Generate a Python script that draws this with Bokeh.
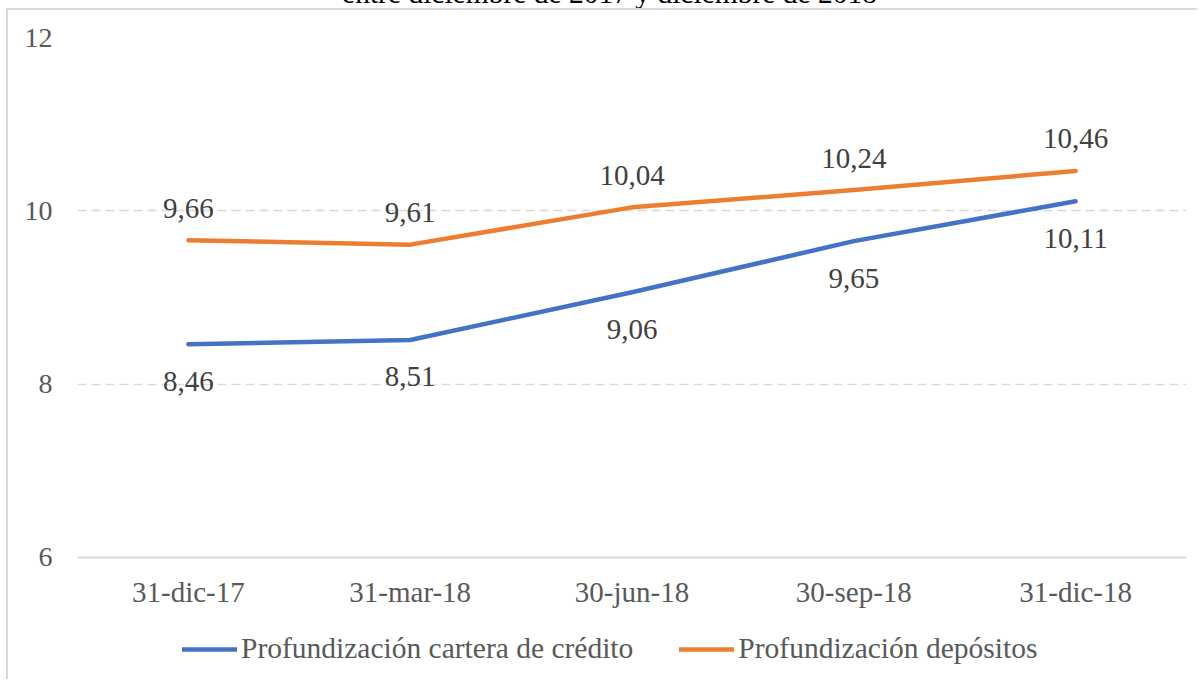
from bokeh.plotting import figure
from bokeh.models import (ColumnDataSource, FixedTicker, Legend, LegendItem, Div, FactorRange, Range1d, Span)
from bokeh.layouts import column
from bokeh.embed import file_html
from bokeh.resources import INLINE
from bokeh.core.properties import value

categories = ["31-dic-17", "31-mar-18", "30-jun-18", "30-sep-18", "31-dic-18"]
credito = [8.46, 8.51, 9.06, 9.65, 10.11]
depositos = [9.66, 9.61, 10.04, 10.24, 10.46]
series_names = ["Profundización cartera de crédito", "Profundización depósitos"]
y_ticks = [6, 8, 10, 12]
y_base = 6
title_text = "entre diciembre de 2017 y diciembre de 2018"

FONT = "Liberation Serif"

def fmt(v):
    return f"{v:.2f}".replace(".", ",")

# frame extends below the y=6 baseline so that category labels and legend live inside it
p = figure(x_range=FactorRange(*categories), y_range=Range1d(4.569, 12),
           width=1191, height=671, output_backend="svg", toolbar_location=None,
           min_border_left=69, min_border_right=13, min_border_top=27, min_border_bottom=0)
p.margin = (2, 0, 0, 8)
p.outline_line_color = None
p.styles = {"box-shadow": "-2px -2px 0 0 #d9d9d9"}

src_c = ColumnDataSource(dict(x=categories, y=credito, lab=[fmt(v) for v in credito]))
src_d = ColumnDataSource(dict(x=categories, y=depositos, lab=[fmt(v) for v in depositos]))
src_x = ColumnDataSource(dict(x=categories, y=[y_base] * len(categories)))

# baseline (category axis line)
p.add_layout(Span(location=y_base, dimension="width", line_color="#d9d9d9", line_width=2))

r1 = p.line("x", "y", source=src_c, line_color="#4472C4", line_width=4.5, line_cap="round", line_join="round")
r2 = p.line("x", "y", source=src_d, line_color="#ED7D31", line_width=4.5, line_cap="round", line_join="round")

p.text("x", "y", text="lab", source=src_c, text_font=value(FONT), text_font_size="29px",
       text_color="#404040", text_align="center", text_baseline="middle", y_offset=37)
p.text("x", "y", text="lab", source=src_d, text_font=value(FONT), text_font_size="29px",
       text_color="#404040", text_align="center", text_baseline="middle", y_offset=-32)

# category labels
p.text("x", "y", text="x", source=src_x, text_font=value(FONT), text_font_size="29px",
       text_color="#595959", text_align="center", text_baseline="middle", y_offset=35)

# axes
p.xaxis.visible = False
p.yaxis.ticker = FixedTicker(ticks=y_ticks)
p.yaxis.axis_line_color = None
p.yaxis.major_tick_line_color = None
p.yaxis.minor_tick_line_color = None
p.yaxis.major_label_text_font = FONT
p.yaxis.major_label_text_font_size = "28px"
p.yaxis.major_label_text_color = "#595959"
p.yaxis.major_label_standoff = 19

p.xgrid.grid_line_color = None
p.ygrid.ticker = FixedTicker(ticks=[8, 10, 12])
p.ygrid.grid_line_color = "#d9d9d9"
p.ygrid.grid_line_dash = "9 5"
p.ygrid.grid_line_width = 1.5

legend = Legend(items=[LegendItem(label=series_names[0], renderers=[r1]),
                       LegendItem(label=series_names[1], renderers=[r2])],
                orientation="horizontal", location=(105, 16),
                glyph_width=55, glyph_height=28, label_standoff=4, spacing=46,
                padding=0, margin=0, border_line_color=None, background_fill_alpha=0,
                label_text_font=FONT, label_text_font_size="29.5px", label_text_color="#595959")
p.add_layout(legend, "center")

title = Div(text=('<div style="position:relative; top:-21px; width:1199px; padding-left:20px; '
                  'box-sizing:border-box; text-align:center; white-space:nowrap; '
                  'font-family:\'Liberation Serif\'; font-size:29.5px; line-height:28px; color:#000;">'
                  + title_text + '</div>'),
            width=1199, height=8, margin=0, styles={"overflow": "hidden"})

layout = column(title, p, spacing=0)
open("out.html", "w").write(file_html(layout, INLINE))
